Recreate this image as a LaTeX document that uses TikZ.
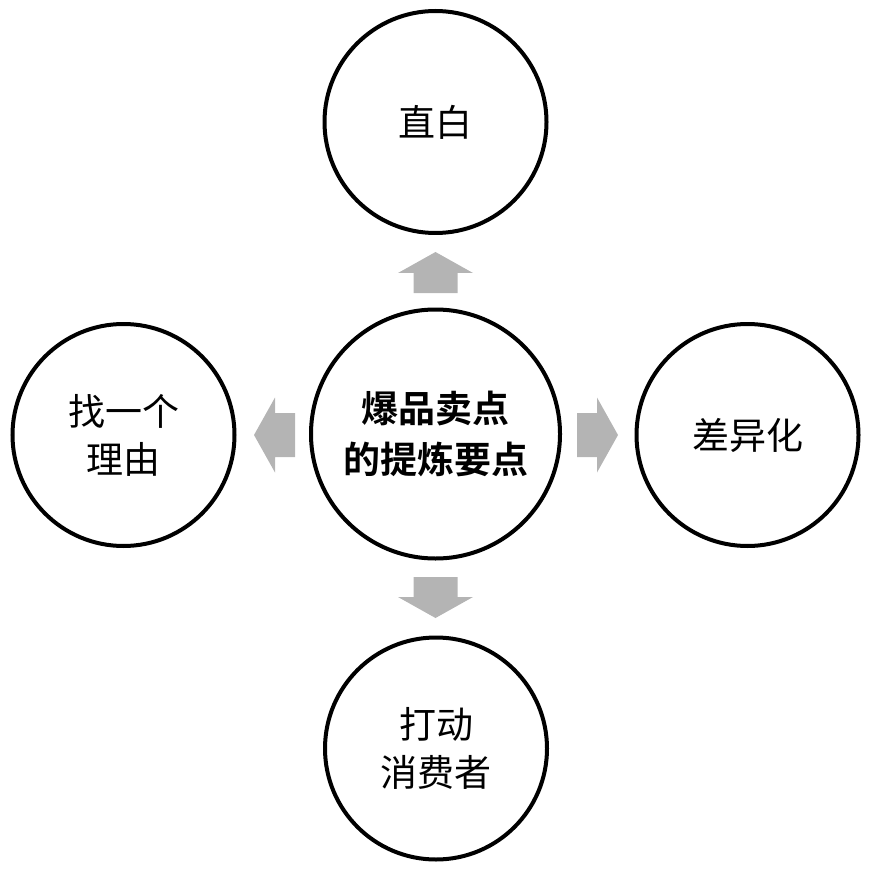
\documentclass[tikz,border=0pt]{standalone}
\usepackage{fontspec}
\newfontfamily\cjk{Noto Sans CJK SC}
\newfontfamily\cjkbold{Noto Sans CJK SC Bold}
\definecolor{arrowgray}{RGB}{180,180,180}
\begin{document}
\begin{tikzpicture}[x=1pt,y=-1pt,
  sat/.style={circle,draw=black,line width=4pt,minimum size=222pt,inner sep=0pt,
    align=center,font=\fontsize{37}{48}\selectfont\cjk},
  hub/.style={circle,draw=black,line width=4pt,minimum size=249pt,inner sep=0pt,
    align=center,font=\fontsize{37}{51}\selectfont\cjkbold},
  blockarrow/.style={fill=arrowgray}]
\useasboundingbox (0,0) rectangle (870,874);
\node[hub] (hub) at (435.5,434) {爆品卖点\\的提炼要点};
\node[sat] (top) at (435.5,122) {直白};
\node[sat] (left) at (123.5,435) {找一个\\理由};
\node[sat] (right) at (747.5,435) {差异化};
\node[sat] (bottom) at (436,748.5) {打动\\消费者};
\coordinate (aup) at (435.5,293);
\coordinate (aleft) at (295,435);
\coordinate (aright) at (577,435);
\coordinate (adown) at (435.5,577);
\foreach \c/\r in {aup/90,aleft/180,aright/0,adown/270}{
  \fill[blockarrow,shift={(\c)},rotate=\r]
    (0,-22) -- (20,-22) -- (20,-37.5) -- (41,0) -- (20,37.5) -- (20,22) -- (0,22) -- cycle;
}
\end{tikzpicture}
\end{document}
